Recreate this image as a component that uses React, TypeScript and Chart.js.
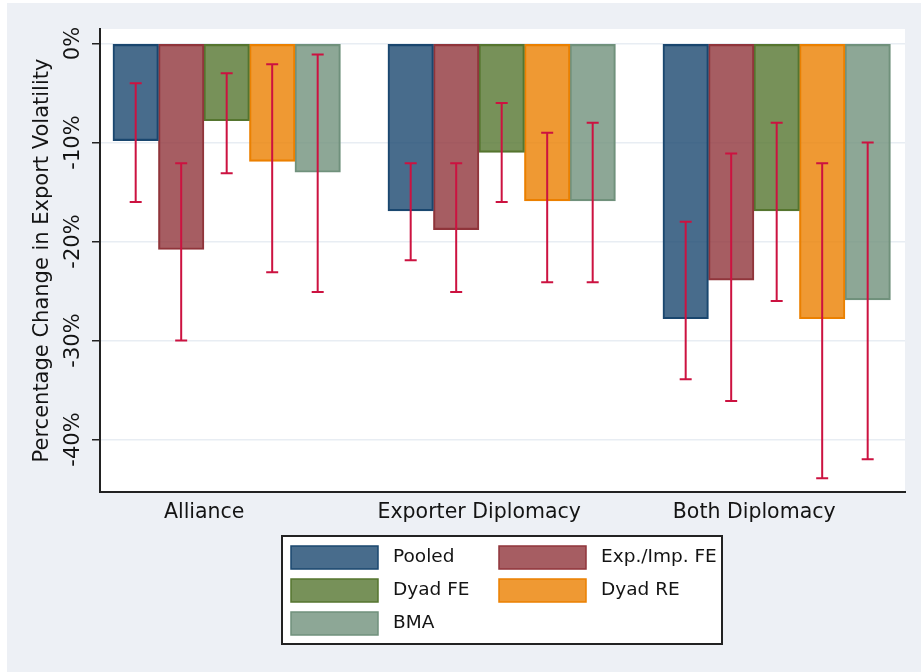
import React, { useEffect, useRef } from 'react';
import { Chart, registerables } from 'chart.js';

Chart.register(...registerables);

// ---- data ----
const categories = ['Alliance', 'Exporter Diplomacy', 'Both Diplomacy'];
const seriesLabels = ['Pooled', 'Exp./Imp. FE', 'Dyad FE', 'Dyad RE', 'BMA'];

const pooled = [-9.8, -16.9, -27.8];
const expImpFE = [-20.8, -18.8, -23.9];
const dyadFE = [-7.8, -11.0, -16.9];
const dyadRE = [-11.9, -15.9, -27.8];
const bma = [-13.0, -15.9, -25.9];

const pooledLo = [-16.0, -21.9, -33.9];
const pooledHi = [-4.0, -12.1, -18.0];
const expImpLo = [-30.0, -25.1, -36.1];
const expImpHi = [-12.1, -12.1, -11.1];
const dyadFELo = [-13.1, -16.0, -26.0];
const dyadFEHi = [-3.0, -6.0, -8.0];
const dyadRELo = [-23.1, -24.1, -43.9];
const dyadREHi = [-2.1, -9.0, -12.1];
const bmaLo = [-25.1, -24.1, -42.0];
const bmaHi = [-1.1, -8.0, -10.0];

const yTicks = [-40, -30, -20, -10, 0];
const yTitle = 'Percentage Change in Export Volatility';

// ---- styles ----
const fills = [
  'rgba(26,71,111,0.8)',
  'rgba(144,53,59,0.8)',
  'rgba(85,117,47,0.8)',
  'rgba(235,128,0,0.8)',
  'rgba(112,145,124,0.8)',
];
const borders = [
  'rgb(26,71,111)',
  'rgb(144,53,59)',
  'rgb(85,117,47)',
  'rgb(235,128,0)',
  'rgb(112,145,124)',
];
const FONT = "'DejaVu Sans', sans-serif";
const TEXT = '#141414';

const values = [pooled, expImpFE, dyadFE, dyadRE, bma];
const lows = [pooledLo, expImpLo, dyadFELo, dyadRELo, bmaLo];
const highs = [pooledHi, expImpHi, dyadFEHi, dyadREHi, bmaHi];

const backgroundPlugin = {
  id: 'bg',
  beforeDraw(chart: any) {
    const { ctx, chartArea, width, height } = chart;
    ctx.save();
    ctx.fillStyle = '#ffffff';
    ctx.fillRect(0, 0, width, height);
    ctx.fillStyle = '#edf0f5';
    ctx.fillRect(7, 3, width - 7, height - 3);
    ctx.fillStyle = '#ffffff';
    ctx.fillRect(chartArea.left, chartArea.top, chartArea.right - chartArea.left, chartArea.bottom - chartArea.top);
    ctx.restore();
  },
};

const errorBarPlugin = {
  id: 'errorBars',
  afterDatasetsDraw(chart: any) {
    const { ctx } = chart;
    const yScale = chart.scales.y;
    ctx.save();
    ctx.strokeStyle = '#cc1240';
    ctx.lineWidth = 2;
    chart.data.datasets.forEach((ds: any, i: number) => {
      const meta = chart.getDatasetMeta(i);
      meta.data.forEach((el: any, j: number) => {
        const x = el.x;
        const yLo = yScale.getPixelForValue(ds.ciLow[j]);
        const yHi = yScale.getPixelForValue(ds.ciHigh[j]);
        const cap = 6;
        ctx.beginPath();
        ctx.moveTo(x, yHi);
        ctx.lineTo(x, yLo);
        ctx.moveTo(x - cap, yHi);
        ctx.lineTo(x + cap, yHi);
        ctx.moveTo(x - cap, yLo);
        ctx.lineTo(x + cap, yLo);
        ctx.stroke();
      });
    });
    ctx.restore();
  },
};

const legendPlugin = {
  id: 'boxLegend',
  afterDraw(chart: any) {
    const { ctx } = chart;
    const boxL = 282, boxT = 536, boxR = 722, boxB = 644;
    ctx.save();
    ctx.fillStyle = '#ffffff';
    ctx.fillRect(boxL, boxT, boxR - boxL, boxB - boxT);
    ctx.strokeStyle = '#222222';
    ctx.lineWidth = 2;
    ctx.strokeRect(boxL, boxT, boxR - boxL, boxB - boxT);
    const colX = [291, 499];
    const rowY = [557.5, 590.5, 623.5];
    ctx.font = `18.5px ${FONT}`;
    ctx.textBaseline = 'middle';
    ctx.textAlign = 'left';
    chart.data.datasets.forEach((ds: any, i: number) => {
      const col = i % 2;
      const row = Math.floor(i / 2);
      const x = colX[col];
      const y = rowY[row];
      ctx.fillStyle = '#ffffff';
      ctx.fillRect(x, y - 11.5, 87, 23);
      ctx.fillStyle = ds.backgroundColor;
      ctx.fillRect(x, y - 11.5, 87, 23);
      ctx.strokeStyle = ds.borderColor;
      ctx.lineWidth = 1.5;
      ctx.strokeRect(x, y - 11.5, 87, 23);
      ctx.fillStyle = TEXT;
      ctx.fillText(ds.label, x + 102, y);
    });
    ctx.restore();
  },
};

export default function App() {
  const ref = useRef<HTMLCanvasElement>(null);

  useEffect(() => {
    const canvas = ref.current;
    if (!canvas) return;
    const chart = new Chart(canvas, {
      type: 'bar',
      data: {
        datasets: seriesLabels.map((label, i) => ({
          label,
          data: values[i].map((v, j) => ({ x: j, y: v })),
          backgroundColor: fills[i],
          borderColor: borders[i],
          borderWidth: 1.5,
          borderSkipped: false,
          barThickness: 45.5,
          ciLow: lows[i],
          ciHigh: highs[i],
        })) as any,
      },
      options: {
        animation: false,
        responsive: false,
        maintainAspectRatio: false,
        layout: { padding: { left: 10, right: 16, top: 29, bottom: 140 } },
        plugins: {
          legend: { display: false },
          tooltip: { enabled: false },
          title: { display: false },
        },
        scales: {
          x: {
            type: 'linear',
            position: 'bottom',
            offset: false,
            bounds: 'data',
            min: -0.4607,
            max: 2.4666,
            afterBuildTicks: (s: any) => {
              s.ticks = categories.map((_, i) => ({ value: i }));
            },
            afterFit: (s: any) => {
              s.height = 40;
            },
            ticks: {
              callback: (v: any) => categories[Math.round(Number(v))],
              font: { family: FONT, size: 20.5 },
              color: TEXT,
              padding: 8,
              labelOffset: -22.5,
              autoSkip: false,
              minRotation: 0,
              maxRotation: 0,
            },
            grid: { display: true, offset: false, drawOnChartArea: false, drawTicks: false },
            border: { display: true, color: '#222222', width: 2 },
          },
          y: {
            type: 'linear',
            min: -45.3,
            max: 1.47,
            afterBuildTicks: (s: any) => {
              s.ticks = yTicks.map((v) => ({ value: v }));
            },
            afterFit: (s: any) => {
              s.width = 90;
            },
            ticks: {
              callback: (v: any) => `${v}%`,
              font: { family: FONT, size: 21 },
              color: TEXT,
              minRotation: 90,
              maxRotation: 90,
              crossAlign: 'center',
              padding: -9,
              autoSkip: false,
            },
            grid: {
              color: '#e8edf3',
              lineWidth: 1.5,
              tickColor: '#222222',
              tickLength: 8,
              tickWidth: 1.5,
            },
            border: { display: true, color: '#222222', width: 2 },
            title: {
              display: true,
              text: yTitle,
              font: { family: FONT, size: 21 },
              color: TEXT,
              padding: { top: 20, bottom: 0 },
            },
          },
        },
      } as any,
      plugins: [backgroundPlugin, errorBarPlugin, legendPlugin],
    });
    return () => chart.destroy();
  }, []);

  return (
    <div style={{ position: 'fixed', left: 0, top: 0, width: 921, height: 672 }}>
      <canvas ref={ref} width={921} height={672} style={{ display: 'block', width: 921, height: 672 }} />
    </div>
  );
}
